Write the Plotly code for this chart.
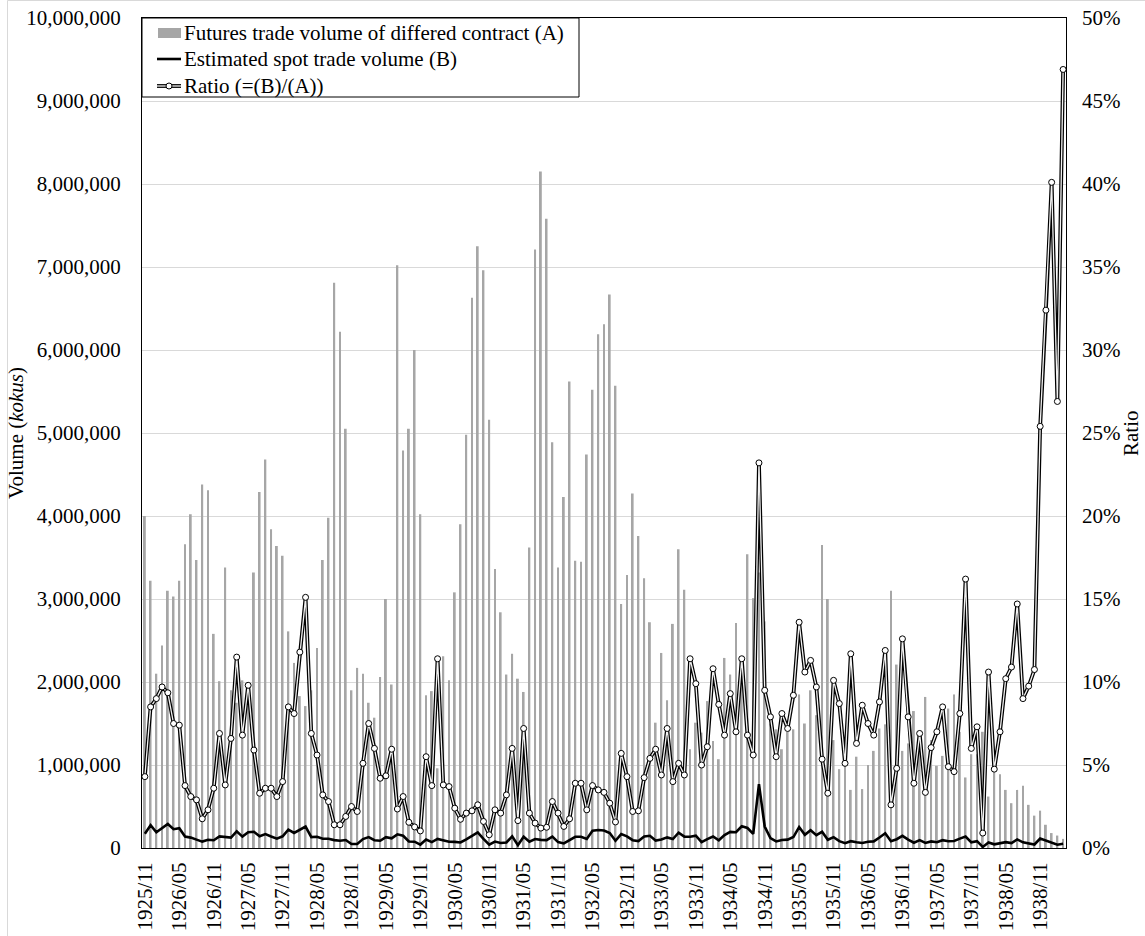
import plotly.graph_objects as go

# ---- categories (monthly, 1925/11 .. 1939/03) ----
months = []
_y, _m = 1925, 11
for _ in range(161):
    months.append(f"{_y}/{_m:02d}")
    _m += 1
    if _m > 12:
        _m = 1
        _y += 1

tick_labels = ["1925/11", "1926/05", "1926/11", "1927/05", "1927/11", "1928/05", "1928/11",
               "1929/05", "1929/11", "1930/05", "1930/11", "1931/05", "1931/11", "1932/05",
               "1932/11", "1933/05", "1933/11", "1934/05", "1934/11", "1935/05", "1935/11",
               "1936/05", "1936/11", "1937/05", "1937/11", "1938/05", "1938/11"]

# Futures trade volume of differed contract (A), kokus
futures_volume = [
    4000000, 3220000, 2100000, 2440000, 3100000, 3030000, 3220000, 3660000, 4020000, 3470000,
    4380000, 4310000, 2580000, 2010000, 3380000, 1900000, 1750000, 2020000, 1940000, 3320000,
    4290000, 4680000, 3840000, 3640000, 3520000, 2610000, 2230000, 1830000, 1710000, 1900000,
    2410000, 3470000, 3980000, 6810000, 6220000, 5050000, 1900000, 2170000, 2100000, 1750000,
    1570000, 2060000, 3000000, 1970000, 7020000, 4790000, 5050000, 6000000, 4020000, 1840000,
    1890000, 960000, 2310000, 2020000, 3080000, 3900000, 4980000, 6630000, 7250000, 6960000,
    5160000, 3360000, 2840000, 2090000, 2340000, 2040000, 1880000, 3620000, 7210000, 8150000,
    7580000, 4890000, 3380000, 4230000, 5620000, 3460000, 3450000, 4740000, 5520000, 6190000,
    6310000, 6670000, 5570000, 2940000, 3290000, 4270000, 3760000, 3250000, 2720000, 1510000,
    2350000, 1780000, 2700000, 3600000, 3110000, 1190000, 1510000, 1390000, 1770000, 1290000,
    1070000, 2290000, 2090000, 2710000, 2300000, 3540000, 3010000, 3320000, 2730000, 1500000,
    1430000, 1190000, 1400000, 1430000, 1850000, 1500000, 1900000, 1600000, 3650000, 3000000,
    1300000, 950000, 1130000, 700000, 1100000, 710000, 1000000, 1170000, 1440000, 1490000,
    3100000, 2210000, 1170000, 1260000, 1650000, 1370000, 1820000, 1300000, 990000, 1110000,
    1680000, 1850000, 1400000, 850000, 1130000, 1130000, 1400000, 620000, 920000, 890000,
    700000, 540000, 700000, 750000, 520000, 390000, 450000, 280000, 180000, 150000,
    110000]

# Estimated spot trade volume (B), kokus
spot_volume = [
    172000, 274000, 189000, 237000, 290000, 227000, 238000, 138000, 125000, 101000,
    77000, 99000, 93000, 139000, 128000, 125000, 201000, 137000, 190000, 196000,
    142000, 168000, 138000, 113000, 141000, 222000, 181000, 216000, 258000, 131000,
    135000, 111000, 111000, 95000, 87000, 96000, 48000, 48000, 107000, 131000,
    94000, 87000, 131000, 117000, 165000, 148000, 78000, 76000, 41000, 101000,
    71000, 109000, 88000, 75000, 74000, 67000, 105000, 149000, 189000, 111000,
    41000, 77000, 60000, 67000, 140000, 34000, 135000, 76000, 108000, 98000,
    95000, 137000, 71000, 55000, 99000, 135000, 135000, 109000, 208000, 217000,
    211000, 180000, 87000, 168000, 141000, 94000, 84000, 138000, 147000, 90000,
    103000, 128000, 108000, 184000, 137000, 136000, 149000, 70000, 108000, 139000,
    93000, 156000, 194000, 190000, 262000, 241000, 169000, 770000, 259000, 119000,
    79000, 96000, 101000, 132000, 252000, 159000, 215000, 155000, 195000, 99000,
    131000, 83000, 58000, 82000, 69000, 61000, 75000, 80000, 127000, 177000,
    81000, 106000, 147000, 100000, 64000, 95000, 61000, 79000, 69000, 94000,
    82000, 85000, 113000, 138000, 68000, 82000, 13000, 66000, 44000, 62000,
    71000, 59000, 103000, 68000, 51000, 42000, 114000, 91000, 72000, 40000,
    52000]

# Ratio (=(B)/(A))
ratio = [
    0.043, 0.085, 0.090, 0.097, 0.0935, 0.075, 0.074, 0.0376, 0.031, 0.029,
    0.0176, 0.023, 0.036, 0.069, 0.038, 0.066, 0.115, 0.068, 0.098, 0.059,
    0.033, 0.036, 0.036, 0.031, 0.040, 0.085, 0.081, 0.118, 0.151, 0.069,
    0.056, 0.032, 0.028, 0.014, 0.014, 0.019, 0.025, 0.022, 0.051, 0.075,
    0.060, 0.042, 0.0435, 0.0595, 0.0235, 0.031, 0.0155, 0.0127, 0.0103, 0.055,
    0.0376, 0.114, 0.038, 0.037, 0.024, 0.0173, 0.021, 0.0224, 0.026, 0.016,
    0.008, 0.023, 0.021, 0.032, 0.060, 0.0165, 0.072, 0.021, 0.015, 0.012,
    0.0125, 0.028, 0.021, 0.013, 0.0176, 0.039, 0.039, 0.023, 0.0376, 0.035,
    0.0335, 0.027, 0.0157, 0.057, 0.043, 0.022, 0.0224, 0.0424, 0.054, 0.0595,
    0.044, 0.072, 0.040, 0.051, 0.044, 0.114, 0.099, 0.050, 0.061, 0.108,
    0.0865, 0.068, 0.093, 0.070, 0.114, 0.068, 0.056, 0.232, 0.095, 0.079,
    0.055, 0.081, 0.072, 0.092, 0.136, 0.106, 0.113, 0.097, 0.0535, 0.033,
    0.101, 0.087, 0.051, 0.117, 0.063, 0.086, 0.075, 0.068, 0.088, 0.119,
    0.026, 0.048, 0.126, 0.079, 0.039, 0.069, 0.0335, 0.0605, 0.070, 0.085,
    0.049, 0.046, 0.081, 0.162, 0.060, 0.073, 0.009, 0.106, 0.0475, 0.070,
    0.102, 0.109, 0.147, 0.090, 0.0975, 0.1075, 0.254, 0.324, 0.401, 0.269,
    0.469]

legend_labels = ["Futures trade volume of differed contract (A)",
                 "Estimated spot trade volume (B)",
                 "Ratio (=(B)/(A))"]

FONT = "Liberation Serif, Times New Roman, serif"
FS = 21
W, H = 1145, 936
L, R, T, B = 142, 1066, 18, 848
BAR_COLOR = "#a6a6a6"


def px_x(p):
    return (p - L) / (R - L)


def px_y(p):
    return (B - p) / (B - T)


fig = go.Figure()
fig.add_trace(go.Bar(
    x=months, y=futures_volume, name=legend_labels[0],
    marker=dict(color=BAR_COLOR, line=dict(width=0)), yaxis="y", showlegend=False))
fig.add_trace(go.Scatter(
    x=months, y=spot_volume, name=legend_labels[1], mode="lines",
    line=dict(color="black", width=2.6), yaxis="y", showlegend=False))
fig.add_trace(go.Scatter(
    x=months, y=ratio, name=legend_labels[2], mode="lines",
    line=dict(color="black", width=3.8), yaxis="y2", showlegend=False))
fig.add_trace(go.Scatter(
    x=months, y=ratio, mode="lines", showlegend=False, hoverinfo="skip",
    line=dict(color="#f2f2f2", width=1.3), yaxis="y2"))
fig.add_trace(go.Scatter(
    x=months, y=ratio, mode="markers", showlegend=False, hoverinfo="skip",
    marker=dict(symbol="circle", size=6, color="white", line=dict(color="black", width=1)),
    yaxis="y2"))

# ---- legend box (drawn like the original, inside the plot's top-left corner) ----
lx0, lx1, ly0, ly1 = 142, 579, 18, 97
row_y = [33, 59, 86]
sym_x0, sym_x1 = 157, 181
shapes = [
    dict(type="line", xref="paper", yref="paper", x0=px_x(7.5), x1=px_x(1145),
         y0=px_y(0.5), y1=px_y(0.5), line=dict(color="#d9d9d9", width=1)),
    dict(type="line", xref="paper", yref="paper", x0=px_x(7.5), x1=px_x(7.5),
         y0=px_y(0.5), y1=px_y(936), line=dict(color="#d9d9d9", width=1)),
    dict(type="rect", xref="paper", yref="paper", x0=px_x(lx0), x1=px_x(lx1),
         y0=px_y(ly1), y1=px_y(ly0), fillcolor="white", line=dict(color="black", width=1)),
    dict(type="rect", xref="paper", yref="paper", x0=px_x(sym_x0 + 1), x1=px_x(sym_x1),
         y0=px_y(row_y[0] + 5), y1=px_y(row_y[0] - 5), fillcolor=BAR_COLOR,
         line=dict(width=0)),
    dict(type="line", xref="paper", yref="paper", x0=px_x(sym_x0), x1=px_x(sym_x1),
         y0=px_y(row_y[1]), y1=px_y(row_y[1]), line=dict(color="black", width=2.6)),
    dict(type="line", xref="paper", yref="paper", x0=px_x(sym_x0), x1=px_x(sym_x1),
         y0=px_y(row_y[2]), y1=px_y(row_y[2]), line=dict(color="black", width=3.8)),
    dict(type="line", xref="paper", yref="paper", x0=px_x(sym_x0), x1=px_x(sym_x1),
         y0=px_y(row_y[2]), y1=px_y(row_y[2]), line=dict(color="#f2f2f2", width=1.3)),
    dict(type="circle", xref="paper", yref="paper", x0=px_x(166), x1=px_x(172),
         y0=px_y(row_y[2] + 3), y1=px_y(row_y[2] - 3), fillcolor="white",
         line=dict(color="black", width=1)),
]

annotations = [
    dict(text="Volume (<i>kokus</i>)", x=px_x(16), y=0.5, xref="paper", yref="paper",
         textangle=-90, showarrow=False, xanchor="center", yanchor="middle",
         font=dict(family=FONT, size=FS)),
    dict(text="Ratio", x=px_x(1131), y=0.5, xref="paper", yref="paper",
         textangle=-90, showarrow=False, xanchor="center", yanchor="middle",
         font=dict(family=FONT, size=FS)),
]
for lab, ry in zip(legend_labels, row_y):
    annotations.append(dict(text=lab, x=px_x(182), y=px_y(ry), xref="paper", yref="paper",
                            showarrow=False, xanchor="left", yanchor="middle",
                            font=dict(family=FONT, size=FS)))

fig.update_layout(
    width=W, height=H,
    margin=dict(l=L, r=W - R, t=T, b=H - B, pad=0),
    paper_bgcolor="white", plot_bgcolor="white",
    font=dict(family=FONT, size=FS, color="black"),
    bargap=0.68,
    showlegend=False,
    xaxis=dict(type="category", categoryorder="array", categoryarray=months,
               range=[-0.5, len(months) - 0.5], autorange=False,
               tickmode="array", tickvals=tick_labels, ticktext=tick_labels,
               tickangle=-90, showline=True, linecolor="black", linewidth=1, mirror=True,
               showgrid=False, ticks="", ticklabelstandoff=5, automargin=False,
               tickfont=dict(family=FONT, size=FS)),
    yaxis=dict(range=[0, 10000000], dtick=1000000, tickformat=",d", showline=True,
               linecolor="black", linewidth=1, mirror=True, showgrid=True,
               gridcolor="#d9d9d9", gridwidth=1, zeroline=False, ticks="",
               ticklabelstandoff=16, automargin=False,
               tickfont=dict(family=FONT, size=FS)),
    yaxis2=dict(range=[0, 0.5], dtick=0.05, tickformat=".0%", overlaying="y", side="right",
                showgrid=False, zeroline=False, showline=False, ticks="",
                ticklabelstandoff=15, automargin=False,
                tickfont=dict(family=FONT, size=FS)),
    annotations=annotations,
    shapes=shapes,
)

fig.write_html("out.html", config={"displayModeBar": False},
               post_script="document.body.style.margin='0px';document.body.style.overflow='hidden';")
